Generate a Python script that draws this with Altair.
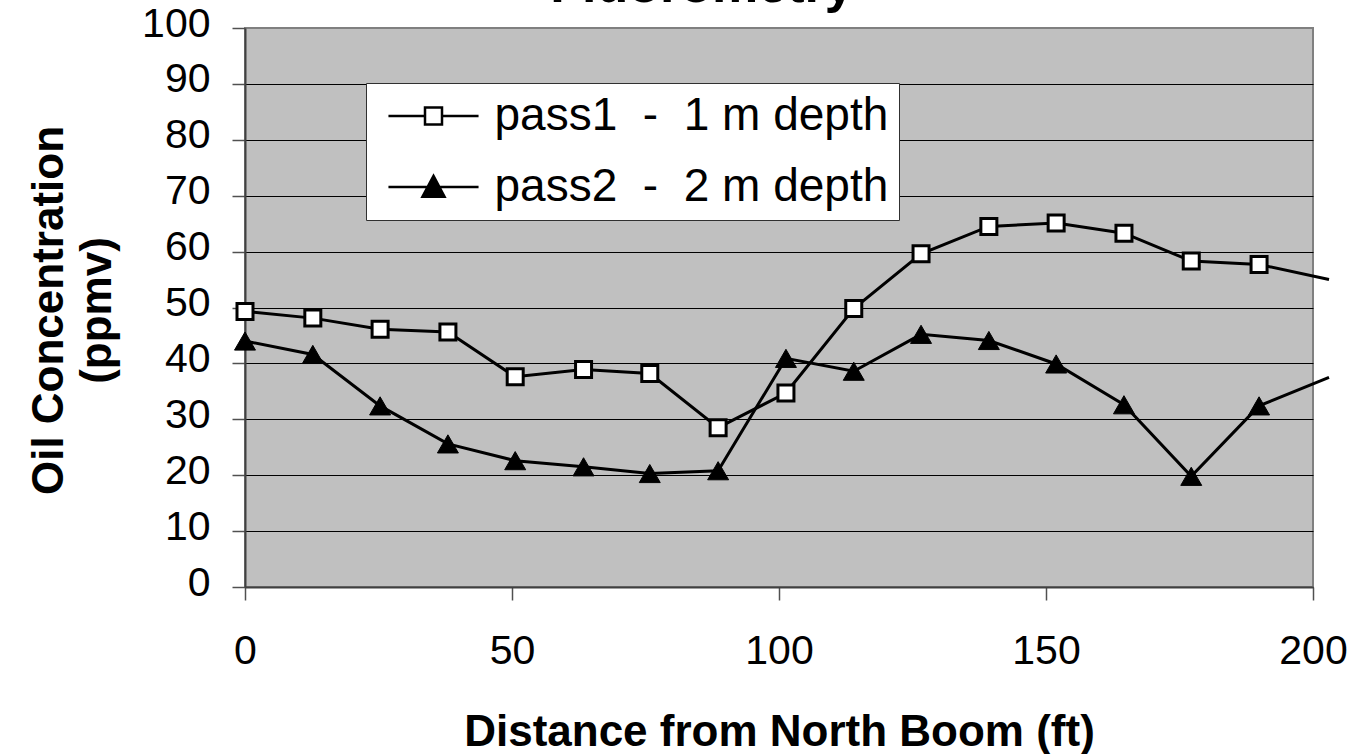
import altair as alt
import pandas as pd

# distance from North Boom (ft)
distance = [0, 12.7, 25.3, 38.0, 50.6, 63.4, 75.8, 88.6, 101.3, 114.0, 126.6, 139.3, 151.9, 164.6, 177.2, 189.9, 203.0]
pass1 = [49.3, 48.1, 46.1, 45.6, 37.6, 38.9, 38.2, 28.5, 34.7, 49.8, 59.6, 64.5, 65.1, 63.3, 58.3, 57.7, 55.0]
pass2 = [44.0, 41.6, 32.4, 25.6, 22.6, 21.5, 20.3, 20.8, 40.9, 38.6, 45.2, 44.1, 39.9, 32.6, 19.8, 32.4, 37.5]
series_names = ["pass1 \u00a0- \u00a01 m depth", "pass2 \u00a0- \u00a02 m depth"]
chart_title = ["Fluorometry"]
x_ticks = [0, 50, 100, 150, 200]
y_ticks = [0, 10, 20, 30, 40, 50, 60, 70, 80, 90, 100]

rows = []
for d, v in zip(distance, pass1):
    rows.append({"x": d, "y": v, "series": series_names[0]})
for d, v in zip(distance, pass2):
    rows.append({"x": d, "y": v, "series": series_names[1]})
df = pd.DataFrame(rows)

FONT = "Liberation Sans"

xenc = alt.X("x:Q", scale=alt.Scale(domain=[0, 200], nice=False, zero=False),
             axis=alt.Axis(values=x_ticks, grid=False, tickSize=13, tickColor="#505050",
                           tickWidth=1.5, domainColor="#404040", domainWidth=2,
                           labelFontSize=41, labelFont=FONT, labelColor="black",
                           labelPadding=31, labelFlush=False,
                           title="Distance from North Boom (ft)", titleFont=FONT,
                           titleFontSize=44, titleFontWeight="bold", titleColor="black",
                           titleBaseline="alphabetic", titleY=158))
yenc = alt.Y("y:Q", scale=alt.Scale(domain=[0, 100], nice=False),
             axis=alt.Axis(values=y_ticks, grid=True,
                           gridColor={"condition": {"test": "datum.value === 100", "value": "#808080"}, "value": "black"},
                           gridWidth=1, tickSize=13, tickColor="#505050", tickWidth=1.5,
                           domainColor="#404040", domainWidth=2,
                           labelFontSize=41, labelFont=FONT, labelColor="black", labelPadding=22,
                           labelFlush=False, labelOffset=-4,
                           title=["Oil Concentration", "(ppmv)"], titleFont=FONT, titleFontSize=44,
                           titleFontWeight="bold", titleColor="black", titleAngle=270,
                           titleBaseline="top", titleAlign="center", titleLineHeight=48,
                           titleX=-218, titleY=282))

base = alt.Chart(df)

lines = base.mark_line(color="black", strokeWidth=3).encode(
    x=xenc, y=yenc, detail="series:N", order="x:Q")

sq = base.transform_filter(
    (alt.datum.series == series_names[0]) & (alt.datum.x <= 200)
).mark_point(shape="square", filled=True, fill="white", stroke="black",
             strokeWidth=3, size=256, opacity=1).encode(x=xenc, y=yenc)

tri = base.transform_filter(
    (alt.datum.series == series_names[1]) & (alt.datum.x <= 200)
).mark_point(shape="triangle-up", filled=True, fill="black", stroke="black",
             strokeWidth=1, size=440, opacity=1).encode(x=xenc, y=yenc)

path_sq = "M-5.3,0L-1,0M1,0L5.3,0M-1,-1L1,-1L1,1L-1,1Z"
path_tri = "M-5.3,0L5.3,0M0,-1.3L1.3,1.15L-1.3,1.15Z"

leg = alt.Legend(title=None, orient="none", legendX=121, legendY=55,
                 fillColor="white", strokeColor="#303030",
                 padding=10, rowPadding=25, labelFont=FONT, labelFontSize=46,
                 labelColor="black", labelLimit=2000, labelOffset=38,
                 symbolSize=289, symbolOffset=34.5,
                 symbolStrokeWidth=2.5, symbolOpacity=1)

legend_layer = base.mark_point(opacity=0).encode(
    x=xenc, y=yenc,
    shape=alt.Shape("series:N", scale=alt.Scale(domain=series_names, range=[path_sq, path_tri]), legend=leg),
    fill=alt.Fill("series:N", scale=alt.Scale(domain=series_names, range=["white", "black"]), legend=leg),
    stroke=alt.Stroke("series:N", scale=alt.Scale(domain=series_names, range=["black", "black"]), legend=leg),
)

title_layer = alt.Chart(pd.DataFrame({"t": chart_title})).mark_text(
    font=FONT, fontSize=52, fontWeight="bold", color="black",
    align="center", baseline="alphabetic"
).encode(text="t:N", x=alt.value(457), y=alt.value(-26))

chart = alt.layer(lines, sq, tri, legend_layer, title_layer).properties(
    width=1068, height=559,
    background="white",
    padding={"left": 245, "top": 28, "right": 47, "bottom": 167},
    autosize="none",
).configure_view(fill="#C0C0C0", stroke="#808080", strokeWidth=2)

chart.save("out.html", embed_options={"renderer": "svg", "actions": False})
